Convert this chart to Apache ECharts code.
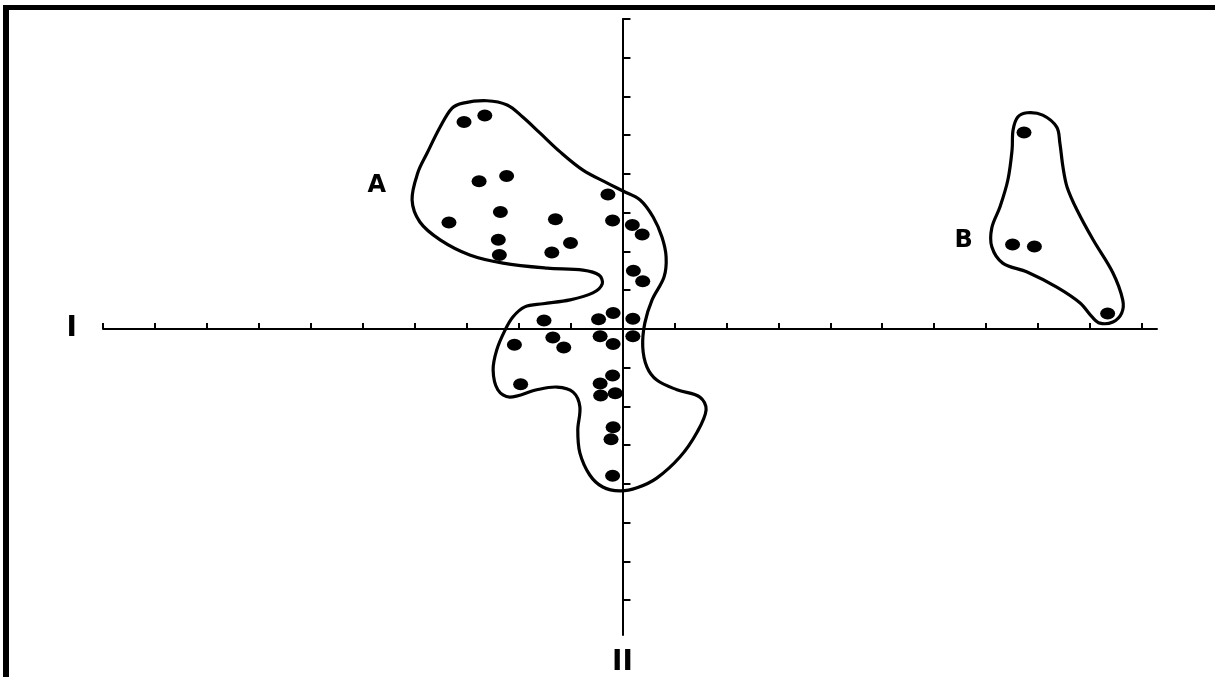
<!DOCTYPE html>
<html>
<head>
<meta charset="utf-8">
<title>Clusters A and B on axes I / II</title>
<script src="https://cdn.jsdelivr.net/npm/echarts@6/dist/echarts.min.js"></script>
<style>
  html, body { margin: 0; padding: 0; background: #fff; }
  #chart { position: absolute; left: 0; top: 0; width: 1215px; height: 677px; }
  /* the scanned figure only has a heavy rule along its top and left edges */
  #frame {
    position: absolute; left: 3px; top: 5px; right: 0; bottom: 0;
    border-top: 5px solid #000; border-left: 6px solid #000;
    pointer-events: none;
  }
</style>
</head>
<body>
<div id="chart"></div>
<div id="frame"></div>
<script>
// tick positions on axis I (horizontal) and axis II (vertical)
const xTicks = [-10, -9, -8, -7, -6, -5, -4, -3, -2, -1, 0, 1, 2, 3, 4, 5, 6, 7, 8, 9, 10];
const yTicks = [-7, -6, -5, -4, -3, -2, -1, 0, 1, 2, 3, 4, 5, 6, 7, 8];

// group A observations [I, II]
const pointsA = [
  [-3.05, 5.34], [-2.65, 5.51], [-2.76, 3.81], [-2.23, 3.95], [-2.35, 3.02],
  [-3.34, 2.75], [-1.29, 2.83], [-2.39, 2.30], [-1.00, 2.22], [-2.37, 1.91],
  [-1.36, 1.97], [-0.28, 3.47], [-0.19, 2.80], [0.19, 2.68], [0.38, 2.44],
  [0.21, 1.50], [0.39, 1.23], [-0.18, 0.41], [-0.46, 0.25], [0.20, 0.26],
  [-1.51, 0.22], [-2.08, -0.41], [-1.34, -0.22], [-1.13, -0.48], [-0.43, -0.19],
  [-0.18, -0.39], [0.20, -0.19], [-0.19, -1.20], [-0.43, -1.41], [-1.96, -1.43],
  [-0.42, -1.72], [-0.14, -1.66], [-0.18, -2.54], [-0.22, -2.85], [-0.19, -3.79]
];

// group B observations [I, II]
const pointsB = [[7.73, 5.07], [7.51, 2.18], [7.93, 2.13], [9.34, 0.40]];

// hand-drawn envelopes around each group, clockwise from the top
const hullA = [
  [-3.07, 5.83], [-2.61, 5.89], [-2.22, 5.78], [-1.92, 5.47], [-1.59, 5.06],
  [-1.20, 4.57], [-0.76, 4.10], [-0.30, 3.77], [0.01, 3.56], [0.34, 3.33],
  [0.59, 2.89], [0.76, 2.37], [0.84, 1.86], [0.80, 1.34], [0.57, 0.75],
  [0.43, 0.15], [0.39, -0.46], [0.47, -0.98], [0.66, -1.32], [1.05, -1.57],
  [1.49, -1.76], [1.61, -2.09], [1.43, -2.68], [1.11, -3.30], [0.66, -3.85],
  [0.28, -4.10], [-0.05, -4.18], [-0.38, -4.08], [-0.63, -3.77], [-0.82, -3.20],
  [-0.86, -2.61], [-0.82, -2.01], [-0.95, -1.63], [-1.26, -1.50], [-1.65, -1.57],
  [-2.17, -1.76], [-2.40, -1.57], [-2.49, -1.06], [-2.42, -0.54], [-2.26, -0.03],
  [-2.11, 0.31], [-1.88, 0.57], [-1.53, 0.65], [-1.01, 0.75], [-0.57, 0.93],
  [-0.39, 1.16], [-0.45, 1.39], [-0.76, 1.52], [-1.45, 1.57], [-2.30, 1.70],
  [-2.94, 1.91], [-3.51, 2.30], [-3.90, 2.76], [-4.05, 3.33], [-3.94, 4.03],
  [-3.76, 4.54], [-3.51, 5.21], [-3.28, 5.70]
];
const hullB = [
  [7.61, 5.47], [7.79, 5.58], [8.09, 5.52], [8.36, 5.21], [8.42, 4.80],
  [8.48, 4.18], [8.56, 3.66], [8.75, 3.07], [9.06, 2.30], [9.44, 1.45],
  [9.63, 0.75], [9.61, 0.41], [9.44, 0.18], [9.19, 0.15], [9.04, 0.31],
  [8.81, 0.67], [8.36, 1.08], [7.79, 1.47], [7.32, 1.70], [7.11, 2.12],
  [7.11, 2.61], [7.27, 3.16], [7.42, 3.85], [7.50, 4.62], [7.52, 5.14]
];

// group names and where they sit
const groupNames = ['A', 'B'];
const groupLabelAt = [[-4.73, 3.69], [6.57, 2.27]];

const hulls = [hullA, hullB];
const INK = '#000';

const chart = echarts.init(document.getElementById('chart'));

const axisCommon = {
  type: 'value',
  axisLine: { onZero: true, lineStyle: { color: INK, width: 2 } },
  axisLabel: { show: false },
  splitLine: { show: false },
  nameTextStyle: { color: INK, fontSize: 28, fontWeight: 'bold', fontFamily: 'DejaVu Sans' },
};

chart.setOption({
  backgroundColor: '#fff',
  animation: false,
  grid: { left: 103, top: 19, width: 1054, height: 616, outerBoundsMode: 'none' },
  xAxis: {
    ...axisCommon,
    min: -10,
    max: 10.29,
    name: 'I',
    nameLocation: 'start',
    nameGap: 26,
    axisTick: { inside: true, length: 6, lineStyle: { color: INK, width: 2 }, customValues: xTicks },
  },
  yAxis: {
    ...axisCommon,
    min: -7.9,
    max: 8,
    name: 'II',
    nameLocation: 'start',
    nameGap: 14,
    axisTick: { inside: true, length: 8, lineStyle: { color: INK, width: 2 }, customValues: yTicks },
  },
  series: [
    {
      type: 'custom',
      silent: true,
      data: hulls.map(() => [0, 0]),
      renderItem: (params, api) => ({
        type: 'polygon',
        shape: { points: hulls[params.dataIndex].map((p) => api.coord(p)), smooth: 0.35 },
        style: { fill: 'none', stroke: INK, lineWidth: 3.2 },
      }),
      z: 2,
    },
    {
      type: 'scatter',
      data: pointsA.concat(pointsB),
      symbol: 'circle',
      symbolSize: [15, 12],
      itemStyle: { color: INK, opacity: 1 },
      silent: true,
      z: 3,
    },
    {
      type: 'scatter',
      data: groupNames.map((n, i) => ({ name: n, value: groupLabelAt[i] })),
      symbolSize: 0,
      silent: true,
      itemStyle: { opacity: 1 },
      label: {
        show: true,
        position: 'inside',
        formatter: '{b}',
        color: INK,
        opacity: 1,
        fontSize: 24,
        fontWeight: 'bold',
        fontFamily: 'DejaVu Sans',
      },
      z: 4,
    },
  ],
});
</script>
</body>
</html>
